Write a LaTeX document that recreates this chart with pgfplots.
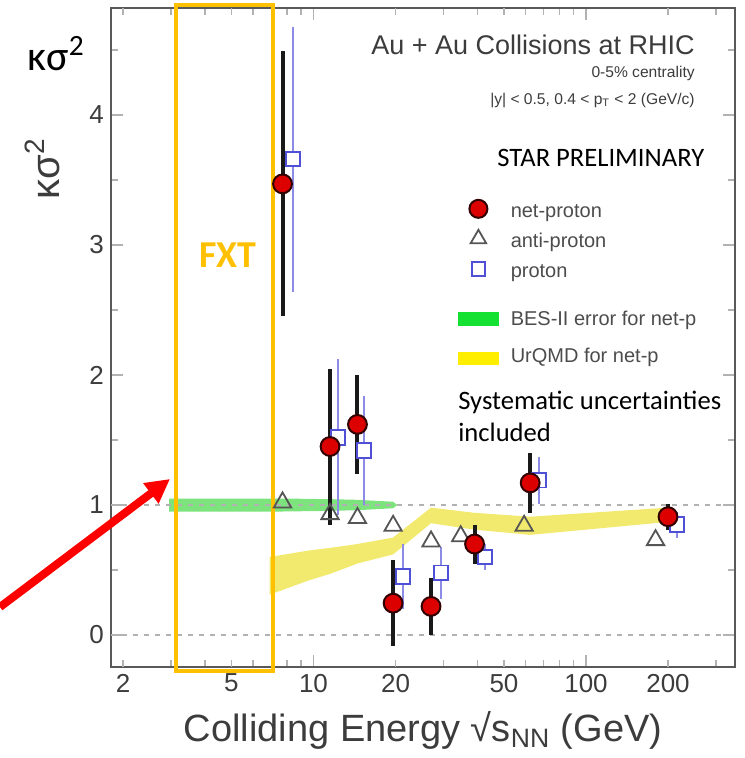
\documentclass[border=0pt]{standalone}
\usepackage{pgfplots}
\pgfplotsset{compat=1.18}
\usepackage{fontspec}
\setmainfont{Liberation Sans}
\newfontfamily\calfont{Carlito}
\usetikzlibrary{arrows.meta}

\definecolor{netred}{RGB}{220,0,0}
\definecolor{protblue}{RGB}{80,80,215}
\definecolor{barblue}{RGB}{140,140,230}
\definecolor{antigrey}{RGB}{85,85,85}
\definecolor{besgreen}{RGB}{125,228,125}
\definecolor{leggreen}{RGB}{20,225,50}
\definecolor{urqyellow}{RGB}{242,234,110}
\definecolor{legyellow}{RGB}{255,238,0}
\definecolor{fxtorange}{RGB}{255,192,0}
\definecolor{axgrey}{RGB}{60,60,60}

\begin{document}
\begin{tikzpicture}
\useasboundingbox (0,0) rectangle (372pt,379pt);
\begin{axis}[
  at={(55.5pt,45.5pt)}, anchor=south west,
  scale only axis, width=312pt, height=329.5pt,
  xmode=log, xmin=1.807, xmax=352.3,
  ymin=-0.246, ymax=4.823,
  clip=false,
  axis line style={draw=black!65, line width=1.4pt},
  tick align=inside, tick pos=both,
  tick style={draw=gray!60, line width=0.6pt},
  major tick length=6pt, minor tick length=3.5pt,
  xtick={10,100}, xticklabels={10,100},
  minor xtick={2,3,4,5,6,7,8,9,20,30,40,50,60,70,80,90,200,300},
  extra x ticks={2,5,20,50,200},
  extra x tick labels={2,5,20,50,200},
  extra x tick style={major tick length=3.5pt},
  ytick={0,1,2,3,4}, yticklabels={0,1,2,3,4},
  minor ytick={0.5,1.5,2.5,3.5,4.5},
  ticklabel style={font=\fontsize{13}{15}\selectfont, text=axgrey},
  xlabel={Colliding Energy √s\textsubscript{NN} (GeV)},
  every axis x label/.style={at={(axis description cs:0.5,0)}, anchor=base, yshift=-37pt,
    font=\fontsize{19}{21}\selectfont, text=axgrey},
  ylabel={κσ\textsuperscript{2}},
  every axis y label/.style={at={(axis description cs:-0.1106,0.756)}, rotate=90, anchor=center,
    font=\fontsize{20}{22}\selectfont, text=axgrey},
  legend style={at={(axis description cs:0.556,0.718)}, anchor=north west, draw=none, fill=none,
    inner sep=0pt, outer sep=0pt, row sep=0pt,
    font=\fontsize{10}{12}\selectfont, text=black!70,
    nodes={inner ysep=0pt, inner xsep=6pt, text height=12pt, text depth=3pt}},
  legend cell align=left,
]
% BES-II error band for net-p
\addplot[draw=none, fill=besgreen, forget plot] coordinates {
(2.95,1.05) (7.7,1.05) (11.5,1.045) (14.5,1.04) (19.6,1.025) (20.3,1.0)
(19.6,0.975) (14.5,0.96) (11.5,0.955) (7.7,0.95) (2.95,0.95)} -- cycle;
% UrQMD band for net-p
\addplot[draw=none, fill=urqyellow, forget plot] coordinates {
(6.9,0.60) (9.6,0.65) (11.5,0.67) (14.5,0.70) (19.6,0.75) (27,0.98) (39,0.94) (62.4,0.91) (200,0.98)
(200,0.87) (62.4,0.77) (39,0.81) (27,0.86) (19.6,0.62) (14.5,0.55) (11.5,0.47) (9.6,0.42) (6.9,0.31)} -- cycle;
% reference lines
\addplot[gray!60, line width=0.7pt, dash pattern=on 2.5pt off 3pt, forget plot] coordinates {(1.807,1) (352.3,1)};
\addplot[gray!60, line width=0.7pt, dash pattern=on 2.5pt off 3pt, forget plot] coordinates {(1.807,0) (352.3,0)};

% proton
\addplot[only marks, color=protblue, mark=square*, mark size=3.6pt,
  mark options={draw=protblue, fill=white, line width=0.9pt}, forget plot,
  error bars/.cd, y dir=both, y explicit, error mark=none,
  error bar style={barblue, line width=1.2pt}]
  table[x=x, y=y, y error=e] {
x y e
8.4 3.66 1.02
12.3 1.52 0.60
15.3 1.42 0.42
21.3 0.45 0.25
29.4 0.48 0.20
42.6 0.60 0.10
67.3 1.19 0.18
216 0.85 0.10
};
% anti-proton
\addplot[only marks, color=antigrey, mark=triangle, mark size=5pt, line width=0.9pt, forget plot]
  table[x=x, y=y] {
x y
7.7 1.02
11.5 0.93
14.5 0.90
19.6 0.84
27 0.72
34.7 0.76
59.3 0.84
180 0.73
};
% net-proton
\addplot[only marks, mark=*, mark size=4.7pt,
  mark options={fill=netred, draw=black!80!red, line width=1pt}, forget plot,
  error bars/.cd, y dir=both, y explicit, error mark=none,
  error bar style={black!90, line width=2pt}]
  table[x=x, y=y, y error=e] {
x y e
7.7 3.47 1.02
11.5 1.45 0.60
14.5 1.62 0.38
19.6 0.245 0.33
27 0.22 0.22
39 0.70 0.15
62.4 1.17 0.23
200 0.91 0.10
};

% legend
\addlegendimage{only marks, mark=*, mark size=4.5pt, mark options={fill=netred, draw=black!80!red, line width=1pt}}
\addlegendentry{net-proton}
\addlegendimage{only marks, mark=triangle, mark size=4.5pt, antigrey, line width=0.9pt}
\addlegendentry{anti-proton}
\addlegendimage{only marks, mark=square, mark size=3.4pt, protblue, line width=0.9pt}
\addlegendentry{proton}
\addlegendimage{legend image code/.code={\fill[leggreen] (-1.5pt,-8.75pt) rectangle (18.5pt,-2.25pt);}}
\addlegendentry[text height=21pt]{BES-II error for net-p}
\addlegendimage{legend image code/.code={\fill[legyellow] (-1.5pt,-7pt) rectangle (18.5pt,-1pt);}}
\addlegendentry[text height=15.5pt]{UrQMD for net-p}

% annotations
\node[anchor=east, inner sep=0pt, font=\fontsize{13.5}{16}\selectfont, text=axgrey] at (axis description cs:0.936,0.944) {Au + Au Collisions at RHIC};
\node[anchor=east, inner sep=0pt, font=\fontsize{7.8}{9}\selectfont, text=axgrey] at (axis description cs:0.936,0.901) {0-5\% centrality};
\node[anchor=east, inner sep=0pt, font=\fontsize{7.8}{9}\selectfont, text=axgrey] at (axis description cs:0.936,0.860) {|y| < 0.5, 0.4 < p\textsubscript{T} < 2 (GeV/c)};
\node[font=\calfont\fontsize{13.3}{16}\selectfont] at (axis description cs:0.785,0.772) {STAR PRELIMINARY};
\node[anchor=west, inner sep=0pt, align=left, font=\calfont\fontsize{13.3}{16}\selectfont] at (axis description cs:0.556,0.381) {Systematic uncertainties\\included};
\node[anchor=base west, inner sep=0pt, font=\calfont\fontsize{21}{24}\selectfont] at (axis description cs:-0.1346,0.905) {κσ\textsuperscript{2}};

% FXT region
\draw[fxtorange, line width=2pt] (axis cs:3.13,-0.277) rectangle (axis cs:7.1,4.846);
\node[font=\calfont\bfseries\fontsize{19}{22}\selectfont, text=fxtorange] at (axis cs:4.85,2.92) {FXT};
\draw[red, line width=4pt, -{Triangle[length=12pt, width=12pt]}] (axis cs:0.707,0.215) -- (axis cs:2.975,1.2);
\end{axis}
\end{tikzpicture}
\end{document}
